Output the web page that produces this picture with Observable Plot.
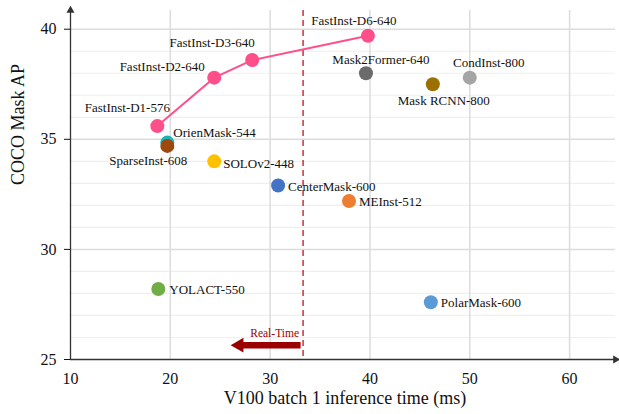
<!DOCTYPE html>
<html><head><meta charset="utf-8">
<script src="https://cdn.jsdelivr.net/npm/d3@7"></script>
<script src="https://cdn.jsdelivr.net/npm/@observablehq/plot@0.6"></script>
<style>body{margin:0;background:#fff} svg text{font-family:'Liberation Serif','Times New Roman',serif}</style>
</head><body><div id="chart"></div>
<script>
// ---- data ----
const models = ["FastInst-D1-576","FastInst-D2-640","FastInst-D3-640","FastInst-D6-640",
  "Mask2Former-640","Mask RCNN-800","CondInst-800","OrienMask-544","SparseInst-608",
  "SOLOv2-448","CenterMask-600","MEInst-512","YOLACT-550","PolarMask-600"];
const inferenceMs = [18.7, 24.4, 28.2, 39.8, 39.6, 46.3, 50.0, 19.7, 19.7, 24.4, 30.8, 37.9, 18.8, 46.1];
const maskAP      = [35.6, 37.8, 38.6, 39.7, 38.0, 37.5, 37.8, 34.85, 34.7, 34.0, 32.9, 32.2, 28.2, 27.6];
const pointColors = ["#ff4f8a","#ff4f8a","#ff4f8a","#ff4f8a","#6b6b6b","#9c7000","#a5a5a5",
  "#1bb5b5","#9e480e","#ffc000","#4472c4","#ed7d31","#70ad47","#5b9bd5"];
const fastInstModels = ["FastInst-D1-576","FastInst-D2-640","FastInst-D3-640","FastInst-D6-640"];
const xTicks = [10, 20, 30, 40, 50, 60];
const yTicks = [25, 30, 35, 40];
const realTimeMs = 33.3;
const arrowFromMs = 33.1, arrowToMs = 27.2, arrowAP = 25.65;
const realTimeLabel = "Real-Time";

// ---- label layout (anchor, dx, dy) ----
const labelLayout = {
  "FastInst-D1-576": ["middle", -30, -18],
  "FastInst-D2-640": ["middle", -52, -11],
  "FastInst-D3-640": ["middle", -40, -17],
  "FastInst-D6-640": ["middle", -14, -15],
  "Mask2Former-640": ["middle", 15, -13],
  "Mask RCNN-800":   ["middle", 11, 17],
  "CondInst-800":    ["middle", 19, -15],
  "OrienMask-544":   ["start", 6, -10],
  "SparseInst-608":  ["middle", -19, 15],
  "SOLOv2-448":      ["start", 9, 2],
  "CenterMask-600":  ["start", 10, 1],
  "MEInst-512":      ["start", 10, 1],
  "YOLACT-550":      ["start", 11, 1],
  "PolarMask-600":   ["start", 10, 1]
};

const serif = "'Liberation Serif', 'Times New Roman', serif";
const data = models.map((m, i) => ({model: m, t: inferenceMs[i], ap: maskAP[i], color: pointColors[i]}));
const fast = data.filter(d => fastInstModels.includes(d.model));
const xMax = 64.6, yMax = 40.85;

const textMarks = data.map(d => Plot.text([d], {x: "t", y: "ap", text: "model",
  textAnchor: labelLayout[d.model][0], dx: labelLayout[d.model][1], dy: labelLayout[d.model][2],
  fontSize: 13, fontFamily: serif, fill: "#111"}));

const minorY = d3.range(26, 41).filter(v => v % 5 !== 0);

const chart = Plot.plot({
  width: 619, height: 414,
  marginLeft: 70, marginRight: 4, marginTop: 10, marginBottom: 55,
  x: {domain: [10, xMax]},
  y: {domain: [25, yMax]},
  style: {fontFamily: serif, fontSize: "16px", color: "#111", background: "#fff"},
  marks: [
    Plot.ruleY(minorY, {stroke: "#efefef", strokeWidth: 1.2}),
    Plot.ruleY([30, 35, 40], {stroke: "#dcdcdc", strokeWidth: 1.5}),
    Plot.ruleX([20, 30, 40, 50, 60], {stroke: "#dcdcdc", strokeWidth: 1.5}),
    Plot.ruleX([realTimeMs], {stroke: "#c0111f", strokeWidth: 1.3, strokeDasharray: "6,4"}),
    Plot.ruleY([arrowAP], {x1: arrowFromMs, x2: arrowToMs, stroke: "#9b0000", strokeWidth: 6.5}),
    Plot.dot([arrowAP], {x: [arrowToMs - 0.3], y: d => d, symbol: "triangle", rotate: -90, r: 5.5, fill: "#9b0000"}),
    Plot.text([realTimeLabel], {x: [(arrowFromMs + arrowToMs) / 2 + 0.3], y: [arrowAP], dy: -12, fontSize: 11.5, fontFamily: serif, fill: "#9b0000"}),
    // axes lines with arrow heads
    Plot.ruleY([25], {x1: 10, x2: xMax, stroke: "#333", strokeWidth: 1.3}),
    Plot.ruleX([10], {y1: 25, y2: yMax, stroke: "#333", strokeWidth: 1.3}),
    Plot.dot([0], {x: [xMax], y: [25], symbol: "triangle", rotate: 90, r: 3, fill: "#333"}),
    Plot.dot([0], {x: [10], y: [yMax], symbol: "triangle", r: 3, fill: "#333"}),
    Plot.axisX(xTicks, {tickSize: 0, tickPadding: 13, fontSize: 16, fontFamily: serif, label: null}),
    Plot.axisY(yTicks, {tickSize: 6, tickPadding: 8, fontSize: 16, fontFamily: serif, label: null}),
    Plot.text(["V100 batch 1 inference time (ms)"], {frameAnchor: "bottom", dy: 44, dx: 2, fontSize: 18, fontFamily: serif}),
    Plot.text(["COCO Mask AP"], {frameAnchor: "left", dx: -52, rotate: -90, fontSize: 18, fontFamily: serif}),
    Plot.line(fast, {x: "t", y: "ap", stroke: "#ff4f8a", strokeWidth: 2}),
    Plot.dot(data, {x: "t", y: "ap", fill: "color", r: 7}),
    ...textMarks
  ]
});
document.getElementById("chart").appendChild(chart);
</script></body></html>
